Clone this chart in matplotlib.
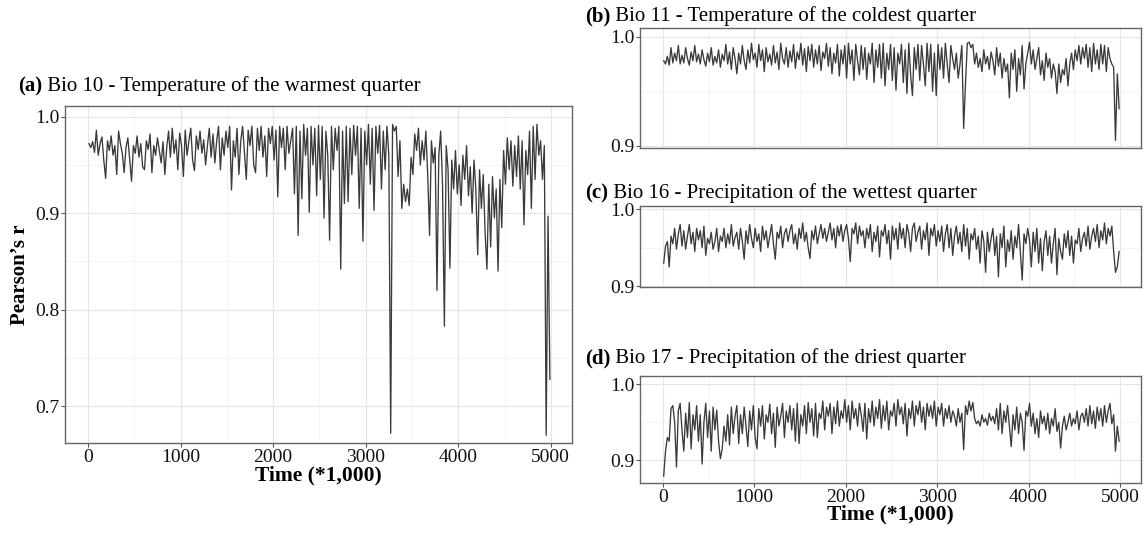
import matplotlib
matplotlib.use("Agg")
import matplotlib.pyplot as plt
from matplotlib.ticker import MultipleLocator
import numpy as np

# time steps (*1,000), one value every 20
time = np.arange(10, 5000, 20)

# Pearson's r, in thousandths
bio10 = [972, 968, 974, 963, 986, 960, 972, 979, 955, 936,
         975, 965, 980, 960, 970, 940, 985, 972, 962, 942,
         968, 978, 955, 933, 970, 962, 980, 958, 972, 948,
         945, 975, 966, 982, 942, 970, 960, 978, 965, 952,
         974, 940, 968, 985, 958, 988, 962, 976, 945, 983,
         970, 938, 986, 960, 975, 988, 955, 944, 980, 966,
         985, 962, 976, 950, 970, 988, 958, 982, 952, 975,
         990, 945, 978, 960, 985, 968, 990, 924, 975, 958,
         988, 940, 975, 990, 962, 935, 986, 970, 990, 950,
         942, 988, 965, 990, 958, 980, 938, 988, 972, 990,
         955, 986, 917, 990, 968, 988, 945, 990, 962, 975,
         988, 920, 990, 877, 985, 915, 992, 960, 988, 901,
         990, 950, 988, 918, 991, 935, 990, 895, 985, 960,
         872, 990, 945, 988, 965, 990, 842, 985, 910, 990,
         912, 988, 940, 991, 960, 990, 905, 988, 871, 985,
         950, 992, 930, 988, 903, 990, 962, 991, 925, 985,
         945, 990, 960, 672, 992, 985, 990, 938, 975, 905,
         930, 912, 925, 908, 958, 940, 982, 965, 988, 950,
         975, 955, 985, 940, 877, 975, 952, 968, 820, 960,
         985, 930, 783, 970, 945, 843, 955, 925, 965, 920,
         950, 908, 960, 935, 970, 918, 948, 900, 955, 925,
         857, 945, 905, 940, 880, 842, 930, 865, 938, 895,
         925, 840, 935, 885, 965, 930, 978, 945, 975, 928,
         970, 938, 980, 925, 975, 888, 965, 940, 985, 905,
         990, 935, 992, 960, 975, 935, 970, 670, 897, 728]

bio11 = [978, 975, 982, 974, 990, 976, 985, 978, 992, 975,
         983, 976, 990, 980, 974, 986, 978, 992, 977, 984,
         975, 988, 979, 973, 985, 977, 990, 974, 982, 976,
         988, 972, 984, 978, 993, 975, 986, 970, 990, 980,
         966, 985, 975, 992, 978, 970, 988, 976, 994, 979,
         985, 972, 993, 978, 988, 968, 990, 977, 984, 974,
         992, 976, 986, 970, 994, 980, 975, 990, 972, 987,
         977, 993, 971, 986, 979, 994, 974, 989, 968, 991,
         978, 993, 972, 988, 975, 992, 969, 986, 980, 994,
         973, 990, 966, 985, 976, 993, 964, 988, 975, 992,
         962, 994, 975, 988, 960, 993, 978, 965, 992, 970,
         990, 961, 985, 975, 994, 958, 988, 972, 993, 962,
         994, 955, 985, 970, 993, 960, 990, 951, 985, 975,
         993, 958, 988, 948, 994, 965, 946, 990, 970, 993,
         960, 992, 975, 955, 994, 968, 993, 950, 985, 946,
         993, 970, 990, 962, 994, 975, 958, 992, 980, 970,
         985, 962, 975, 992, 916, 957, 994, 995, 990, 993,
         975, 985, 972, 980, 968, 988, 975, 982, 970, 986,
         978, 965, 990, 973, 985, 962, 980, 968, 975, 944,
         985, 970, 988, 950, 980, 965, 992, 952, 975, 985,
         995, 975, 988, 970, 980, 990, 965, 978, 960, 985,
         972, 980, 962, 975, 968, 948, 975, 958, 970, 965,
         980, 955, 975, 985, 970, 988, 978, 992, 975, 990,
         980, 993, 972, 990, 968, 994, 975, 988, 970, 993,
         975, 992, 968, 990, 980, 975, 972, 905, 966, 934]

bio16 = [930, 952, 958, 925, 965, 955, 975, 948, 968, 980,
         952, 972, 948, 965, 980, 955, 970, 945, 975, 960,
         972, 950, 978, 940, 962, 955, 970, 948, 958, 975,
         945, 965, 958, 975, 950, 968, 955, 980, 952, 963,
         970, 948, 975, 958, 935, 972, 955, 980, 962, 950,
         975, 958, 968, 945, 978, 960, 972, 950, 965, 980,
         955, 935, 970, 962, 978, 950, 968, 975, 958, 972,
         980, 955, 968, 948, 975, 962, 982, 958, 970, 950,
         936, 972, 960, 978, 955, 968, 980, 962, 975, 958,
         970, 982, 960, 975, 950, 978, 965, 980, 958, 972,
         980, 962, 932, 975, 968, 982, 955, 978, 965, 972,
         950, 975, 962, 980, 945, 970, 958, 978, 938, 972,
         965, 980, 955, 972, 935, 978, 960, 975, 948, 982,
         962, 975, 950, 980, 968, 945, 975, 982, 958, 970,
         978, 948, 972, 960, 982, 940, 975, 965, 980, 952,
         972, 958, 978, 945, 968, 980, 950, 975, 940, 965,
         978, 955, 970, 945, 980, 952, 975, 935, 968, 960,
         975, 948, 965, 930, 972, 958, 918, 970, 945, 962,
         975, 940, 965, 912, 968, 950, 978, 925, 960, 945,
         972, 935, 965, 950, 980, 945, 908, 968, 955, 975,
         960, 925, 970, 945, 975, 930, 962, 920, 958, 972,
         940, 965, 930, 955, 975, 915, 962, 945, 935, 968,
         950, 972, 940, 965, 930, 960, 955, 975, 945, 962,
         970, 952, 978, 948, 965, 975, 958, 980, 950, 972,
         960, 982, 955, 975, 965, 978, 945, 918, 925, 945]

bio17 = [879, 912, 930, 925, 968, 972, 950, 891, 965, 975,
         940, 912, 962, 930, 976, 915, 960, 940, 972, 925,
         960, 895, 950, 975, 930, 965, 912, 970, 940, 966,
         925, 902, 915, 945, 925, 960, 920, 970, 935, 958,
         972, 922, 960, 935, 970, 945, 918, 965, 940, 972,
         930, 915, 968, 945, 972, 928, 960, 950, 974, 935,
         962, 917, 970, 945, 958, 975, 930, 965, 950, 972,
         940, 968, 925, 975, 922, 960, 945, 972, 935, 976,
         950, 968, 932, 975, 930, 962, 955, 978, 940, 970,
         958, 975, 935, 970, 948, 978, 945, 965, 955, 980,
         950, 972, 940, 978, 955, 968, 945, 975, 960, 938,
         975, 928, 968, 950, 978, 945, 970, 955, 980, 942,
         972, 952, 978, 940, 965, 958, 975, 945, 980, 960,
         970, 948, 975, 932, 968, 955, 978, 945, 972, 960,
         978, 950, 970, 940, 975, 958, 972, 955, 978, 945,
         970, 960, 975, 945, 968, 955, 972, 950, 965, 958,
         945, 968, 950, 962, 914, 972, 960, 978, 965, 976,
         955, 948, 952, 945, 960, 950, 955, 946, 962, 952,
         958, 948, 968, 940, 975, 935, 965, 950, 972, 945,
         918, 960, 940, 970, 935, 962, 950, 913, 965, 958,
         975, 945, 962, 935, 955, 930, 965, 948, 958, 940,
         962, 935, 955, 945, 968, 938, 950, 916, 945, 958,
         940, 950, 962, 945, 955, 948, 965, 940, 958, 962,
         950, 968, 945, 972, 948, 965, 942, 970, 952, 968,
         945, 972, 950, 965, 975, 948, 960, 912, 945, 925]

titles = [("(a)", " Bio 10 - Temperature of the warmest quarter"),
          ("(b)", " Bio 11 - Temperature of the coldest quarter"),
          ("(c)", " Bio 16 - Precipitation of the wettest quarter"),
          ("(d)", " Bio 17 - Precipitation of the driest quarter")]

plt.rcParams['font.family'] = ['Liberation Serif', 'DejaVu Serif']

W, H = 1146, 555
fig = plt.figure(figsize=(W / 100, H / 100), dpi=100)


def box(left, top, right, bottom):
    return fig.add_axes([left / W, 1 - bottom / H, (right - left) / W, (bottom - top) / H])


def style(ax, ylim, show_x):
    ax.set_xlim(-249, 5229)
    ax.set_ylim(*ylim)
    ax.xaxis.set_major_locator(MultipleLocator(1000))
    ax.xaxis.set_minor_locator(MultipleLocator(500))
    ax.yaxis.set_major_locator(MultipleLocator(0.1))
    ax.yaxis.set_minor_locator(MultipleLocator(0.05))
    ax.grid(which='major', color='#e6e6e6', lw=0.8)
    ax.grid(which='minor', color='#f2f2f2', lw=0.6)
    ax.set_axisbelow(True)
    for s in ax.spines.values():
        s.set_color('#666666')
        s.set_linewidth(1.0)
    ax.tick_params(which='minor', length=0)
    ax.tick_params(which='major', length=3, width=0.8, color='#555555',
                   labelsize=14, labelcolor='#111111', pad=1)
    ax.yaxis.set_major_formatter(plt.FuncFormatter(lambda v, p: f"{v:.1f}"))
    if not show_x:
        ax.tick_params(axis='x', length=0, labelbottom=False)


def title(x, y, parts):
    t1 = fig.text(x / W, 1 - y / H, parts[0], fontsize=15, fontweight='bold', va='center')
    r = fig.canvas.get_renderer()
    bb = t1.get_window_extent(r)
    fig.text(bb.x1 / W, 1 - y / H, parts[1], fontsize=15, va='center')


series = [bio10, bio11, bio16, bio17]
axa = box(65, 106, 572, 443)
axb = box(640, 28, 1141, 148)
axc = box(640, 206, 1141, 287)
axd = box(640, 376, 1141, 483)
axes = [axa, axb, axc, axd]
ylims = [(0.662, 1.011), (0.898, 1.008), (0.899, 1.004), (0.870, 1.011)]

for ax, vals, yl, show in zip(axes, series, ylims, [True, False, False, True]):
    ax.plot(time, np.array(vals) / 1000, color='#3a3a3a', lw=0.95)
    style(ax, yl, show)

title(18, 86, titles[0])
title(585, 16, titles[1])
title(585, 193, titles[2])
title(585, 358, titles[3])

axa.set_ylabel("Pearson\u2019s r", fontsize=15, fontweight='bold', labelpad=4)
axa.set_xlabel("Time (*1,000)", fontsize=15.5, fontweight='bold', labelpad=0)
axd.set_xlabel("Time (*1,000)", fontsize=15.5, fontweight='bold', labelpad=-1)

plt.savefig('out.png', dpi=100)
